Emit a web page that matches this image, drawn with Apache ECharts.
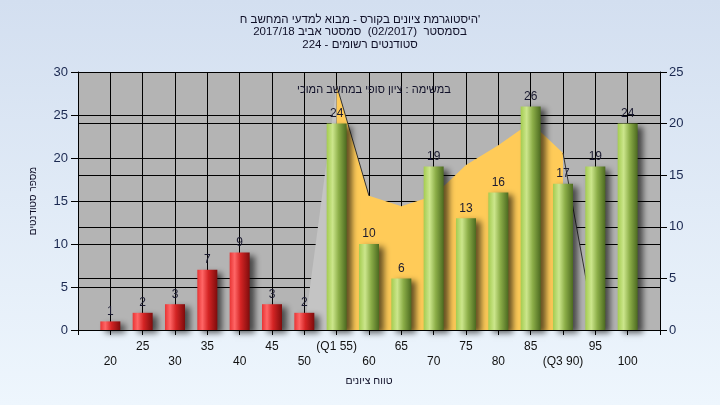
<!DOCTYPE html>
<html>
<head>
<meta charset="utf-8">
<script src="https://cdn.jsdelivr.net/npm/echarts@6/dist/echarts.min.js"></script>
<style>html,body{margin:0;padding:0;}#c{width:720px;height:405px;}</style>
</head>
<body>
<div id="c"></div>
<script>
// ---- data ----
const categories = [20, 25, 30, 35, 40, 45, 50, 55, 60, 65, 70, 75, 80, 85, 90, 95, 100];
const counts     = [1, 2, 3, 7, 9, 3, 2, 24, 10, 6, 19, 13, 16, 26, 17, 19, 24];
const tickLabels = ['20', '25', '30', '35', '40', '45', '50', '(Q1 55)', '60', '65', '70', '75', '80', '85', '(Q3 90)', '95', '100'];
const q1 = 55;
// shaded band between Q1 and Q3 (right axis)
const bandX = [55, 60, 65, 70, 75, 80, 85, 90];
const bandY = [23.7, 13.0, 12.0, 13.0, 16.0, 17.9, 20.1, 17.15];
const leftSideX = [50, 55];
const leftSideY = [0, 23.7];
const rightSideX = [90, 95];
const rightSideY = [17.15, 0];

const titleLines = [
  "היסטוגרמת ציונים בקורס - מבוא למדעי המחשב ח'",
  "בסמסטר  (02/2017)  סמסטר אביב 2017/18",
  "סטודנטים רשומים - 224"
];
const bandName = "במשימה : ציון סופי במחשב המוכי";
const yName = "מספר סטודנטים";
const xName = "טווח ציונים";

const pairs = (xs, ys) => xs.map((x, i) => [x, ys[i]]);

const FONT = '"Liberation Sans", Arial, "DejaVu Sans", sans-serif';

const redGrad = new echarts.graphic.LinearGradient(0, 0, 1, 0, [
  {offset: 0, color: '#e83434'}, {offset: 0.25, color: '#ff6666'},
  {offset: 0.55, color: '#d42424'}, {offset: 1, color: '#7e0c0c'}
]);
const greenGrad = new echarts.graphic.LinearGradient(0, 0, 1, 0, [
  {offset: 0, color: '#a4cc50'}, {offset: 0.3, color: '#cce68c'},
  {offset: 0.6, color: '#8cae48'}, {offset: 1, color: '#4c6a20'}
]);

const barData = categories.map((c, i) => ({
  value: [c, counts[i]],
  itemStyle: {color: c < q1 ? redGrad : greenGrad}
}));

const labelMap = {};
categories.forEach((c, i) => { labelMap[c] = tickLabels[i]; });

const chart = echarts.init(document.getElementById('c'), null, {renderer: 'canvas'});
chart.setOption({
  animation: false,
  backgroundColor: new echarts.graphic.LinearGradient(0, 0, 0, 1, [
    {offset: 0, color: '#d3dff0'}, {offset: 1, color: '#eef6fd'}
  ]),
  title: [{
    text: titleLines.join('\n'),
    left: 'center', top: 8,
    textStyle: {fontFamily: FONT, fontSize: 11.5, fontWeight: 'normal', color: '#101028', lineHeight: 12.8}
  }, {
    text: bandName,
    left: 369, top: 79, textAlign: 'center',
    textStyle: {fontFamily: FONT, fontSize: 11, fontWeight: 'normal', color: '#101028'}
  }],
  grid: {left: 78, right: 60, top: 72, bottom: 75, show: true, backgroundColor: '#b4b4b4', borderWidth: 0},
  xAxis: {
    type: 'value', min: 15, max: 105, interval: 5,
    name: xName, nameLocation: 'middle', nameGap: 46,
    nameTextStyle: {fontFamily: FONT, fontSize: 10.5, color: '#101028'},
    axisLine: {lineStyle: {color: '#000', width: 1}},
    axisTick: {length: 5, lineStyle: {color: '#000'}},
    splitLine: {show: true, lineStyle: {color: '#000', width: 1}},
    axisLabel: {
      margin: 9, fontFamily: FONT, fontSize: 12, color: '#111', lineHeight: 15,
      formatter: v => {
        const t = labelMap[v];
        if (t === undefined) return '';
        const idx = categories.indexOf(v);
        return idx % 2 === 0 ? '\n' + t : t;
      }
    }
  },
  yAxis: [{
    type: 'value', min: 0, max: 30, interval: 5, position: 'left',
    name: yName, nameLocation: 'middle', nameGap: 40, nameRotate: 90,
    nameTextStyle: {fontFamily: FONT, fontSize: 10, color: '#101028'},
    axisLine: {show: true, lineStyle: {color: '#000'}},
    axisTick: {show: true, length: 7, lineStyle: {color: '#000'}},
    splitLine: {show: true, lineStyle: {color: '#000', width: 1}},
    axisLabel: {margin: 10, fontFamily: FONT, fontSize: 13, color: '#1a2850'}
  }, {
    type: 'value', min: 0, max: 25, interval: 5, position: 'right',
    axisLine: {show: true, lineStyle: {color: '#000'}},
    axisTick: {show: true, length: 7, lineStyle: {color: '#000'}},
    splitLine: {show: true, lineStyle: {color: '#000', width: 1}},
    axisLabel: {margin: 9, fontFamily: FONT, fontSize: 13, color: '#1a2850'}
  }],
  series: [{
    type: 'line', yAxisIndex: 1, z: 1, symbol: 'none',
    data: pairs(leftSideX, leftSideY),
    lineStyle: {width: 0}, areaStyle: {color: '#c4c4c4', opacity: 1}
  }, {
    type: 'line', yAxisIndex: 1, z: 1, symbol: 'none',
    data: pairs(bandX, bandY),
    lineStyle: {width: 0}, areaStyle: {color: '#ffcb58', opacity: 1}
  }, {
    type: 'line', yAxisIndex: 1, z: 1, symbol: 'none',
    data: pairs(bandX.slice(0, 2), bandY.slice(0, 2)),
    lineStyle: {width: 1, color: '#333'}
  }, {
    type: 'line', yAxisIndex: 1, z: 1, symbol: 'none',
    data: pairs(rightSideX, rightSideY),
    lineStyle: {width: 1, color: '#333'}, areaStyle: {color: '#b6b6b6', opacity: 1}
  }, {
    type: 'bar', yAxisIndex: 0, z: 3, barWidth: 20,
    data: barData,
    itemStyle: {shadowBlur: 6, shadowOffsetX: 5, shadowOffsetY: 3, shadowColor: 'rgba(0,0,0,0.6)'},
    label: {show: true, position: 'top', distance: 4, fontFamily: FONT, fontSize: 12, color: '#1a1a30',
      formatter: p => p.value[1]}
  }]
});
</script>
</body>
</html>
